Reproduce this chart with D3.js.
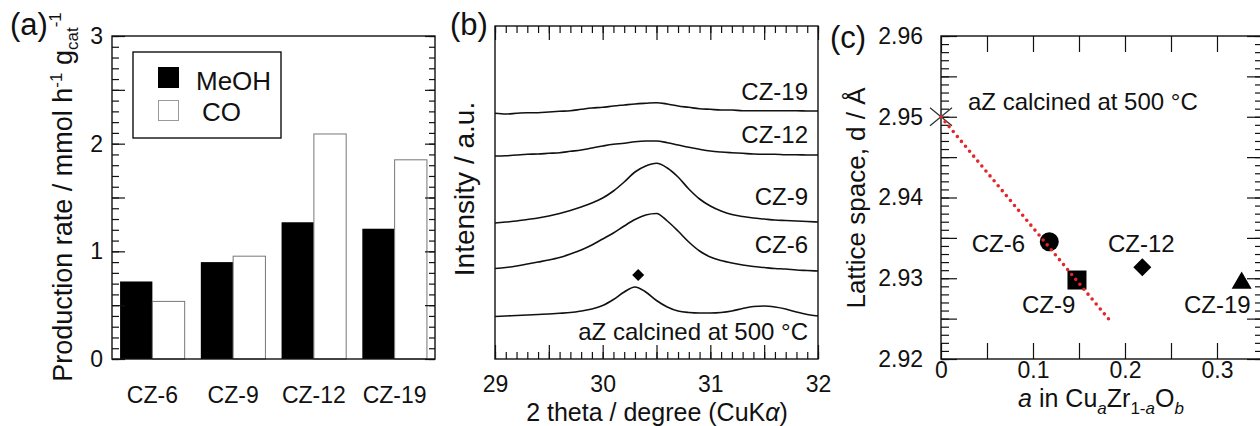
<!DOCTYPE html>
<meta charset="utf-8">
<script src="https://d3js.org/d3.v7.min.js"></script>
<style>
  html, body { margin: 0; padding: 0; background: #fff; }
  svg text { font-family: "Liberation Sans", Arial, sans-serif; fill: #111; }
</style>
<body>
<div id="chart"></div>
<script>
// ---- data ----
// (a) production rate, mmol h-1 gcat-1
var categories = ["CZ-6", "CZ-9", "CZ-12", "CZ-19"];
var meohRate = [0.72, 0.90, 1.27, 1.21];
var coRate = [0.535, 0.955, 2.09, 1.85];
var rateTicks = [0, 1, 2, 3];

// (b) XRD patterns, intensity in a.u. (already offset)
var twoTheta = [29.0, 29.1, 29.2, 29.3, 29.4, 29.5, 29.6, 29.7, 29.8, 29.9,
                30.0, 30.1, 30.2, 30.3, 30.4, 30.5, 30.6, 30.7, 30.8, 30.9,
                31.0, 31.1, 31.2, 31.3, 31.4, 31.5, 31.6, 31.7, 31.8, 31.9, 32.0];
var cz19 = [245.7, 245, 245.7, 246.3, 246.3, 247, 247.7, 248.3, 249.7, 251,
            251.7, 253, 254, 255, 255.7, 256.3, 255, 253, 251.7, 250.3,
            249.7, 249, 249, 248.3, 248.3, 248.3, 248.3, 248.3, 248.3, 248, 248];
var cz12 = [203, 203.3, 204, 204.7, 205, 205.7, 206.3, 207.7, 209, 211,
            213, 214.7, 215.7, 217.3, 218, 218, 216.3, 214, 211.7, 209.7,
            208, 207, 206.3, 205.7, 205, 204.7, 204.7, 204.3, 204.3, 204, 204];
var cz9 = [136, 137, 138, 139.5, 141, 143, 145.5, 148.5, 152, 156,
           161, 168, 177, 187, 193, 195.7, 191, 182, 170, 160,
           153, 148, 144.5, 142.5, 141, 140, 139, 138.5, 138, 137.5, 137];
var cz6 = [90.5, 91.5, 93, 95, 97, 99, 101.5, 105, 109, 114,
           120, 126, 133, 139.5, 144, 145.5, 138, 128, 117, 108,
           102, 98.5, 96, 94, 92.5, 91.5, 90.5, 90, 89, 88.5, 88];
var aZ = [42.5, 43, 43.5, 44, 44.5, 45, 45.7, 46.5, 48, 50,
          53.5, 59.5, 67, 72, 67, 58.5, 52, 48, 46.5, 46,
          46, 46.5, 48, 50.5, 52.5, 53, 52, 50, 47, 44.5, 43];
var aZPeak = {t: 30.33, i: 84};
var thetaTicks = [29, 30, 31, 32];

// (c) lattice spacing vs Cu fraction
var samples = ["CZ-6", "CZ-9", "CZ-12", "CZ-19"];
var cuFraction = [0.1177, 0.1478, 0.2188, 0.3268];
var spacing = [2.93453, 2.92978, 2.93136, 2.92941];
var aZPoint = {a: 0, d: 2.95};
var fitLine = [{a: 0, d: 2.95}, {a: 0.1855, d: 2.9245}];
var dTicks = [2.92, 2.93, 2.94, 2.95, 2.96];
var aTicks = [0, 0.1, 0.2, 0.3];

var svg = d3.select("#chart").append("svg")
  .attr("width", 1260).attr("height", 426);

function frame(x0, y0, x1, y1) {
  svg.append("rect")
    .attr("x", x0).attr("y", y0)
    .attr("width", x1 - x0).attr("height", y1 - y0)
    .attr("fill", "none").attr("stroke", "#111").attr("stroke-width", 1.4);
}
function styleAxis(g) {
  g.select(".domain").remove();
  g.selectAll("line").attr("stroke", "#111").attr("stroke-width", 1.2);
  g.selectAll("text").style("font-size", "23px").attr("fill", "#111");
  g.selectAll("text").filter(function() { return this.textContent === ""; }).remove();
}
function steps(a, b, s) {
  var out = [];
  for (var k = 0; a + k * s <= b + 1e-9; k++) out.push(+(a + k * s).toFixed(4));
  return out;
}

// ================= (a) =================
var xA = d3.scaleBand().domain(categories).range([112, 435])
  .paddingInner(0.2).paddingOuter(0.1);
var xSub = d3.scaleBand().domain(["MeOH", "CO"]).range([0, xA.bandwidth()]);
var yA = d3.scaleLinear().domain([0, 3]).range([359, 36]);

var barsA = svg.append("g");
barsA.selectAll(".meoh").data(categories).enter().append("rect")
  .attr("x", function(d) { return xA(d) + xSub("MeOH"); })
  .attr("width", xSub.bandwidth())
  .attr("y", function(d, i) { return yA(meohRate[i]); })
  .attr("height", function(d, i) { return yA(0) - yA(meohRate[i]); })
  .attr("fill", "#000");
barsA.selectAll(".co").data(categories).enter().append("rect")
  .attr("x", function(d) { return xA(d) + xSub("CO"); })
  .attr("width", xSub.bandwidth())
  .attr("y", function(d, i) { return yA(coRate[i]); })
  .attr("height", function(d, i) { return yA(0) - yA(coRate[i]); })
  .attr("fill", "#fff").attr("stroke", "#777").attr("stroke-width", 1);

svg.append("g").attr("transform", "translate(112,0)")
  .call(d3.axisLeft(yA).tickValues(steps(0, 3, 0.1)).tickSize(-7).tickFormat(""))
  .call(styleAxis);
svg.append("g").attr("transform", "translate(112,0)")
  .call(d3.axisLeft(yA).tickValues(steps(0, 3, 0.5)).tickSize(-13).tickPadding(9)
    .tickFormat(function(d) { return rateTicks.indexOf(d) >= 0 ? d : ""; }))
  .call(styleAxis);
svg.append("g").attr("transform", "translate(435,0)")
  .call(d3.axisRight(yA).tickValues(steps(0, 3, 0.1)).tickSize(-6).tickFormat(""))
  .call(styleAxis);
svg.append("g").attr("transform", "translate(435,0)")
  .call(d3.axisRight(yA).tickValues(steps(0, 3, 0.5)).tickSize(-10).tickFormat(""))
  .call(styleAxis);
svg.append("g").attr("transform", "translate(0,359)")
  .call(d3.axisBottom(xA).tickSize(0).tickPadding(28))
  .call(styleAxis);
frame(112, 36, 435, 359);

// legend
svg.append("rect").attr("x", 133).attr("y", 52).attr("width", 148).attr("height", 86)
  .attr("fill", "#fff").attr("stroke", "#111").attr("stroke-width", 1.4);
svg.append("rect").attr("x", 158).attr("y", 67).attr("width", 21).attr("height", 21).attr("fill", "#000");
svg.append("rect").attr("x", 158.5).attr("y", 100.5).attr("width", 20).attr("height", 20)
  .attr("fill", "#fff").attr("stroke", "#999");
svg.append("text").attr("x", 196).attr("y", 90).style("font-size", "26px").text("MeOH");
svg.append("text").attr("x", 202).attr("y", 121).style("font-size", "26px").text("CO");

svg.append("text").attr("x", 10).attr("y", 35).style("font-size", "31px").text("(a)");
var tA = svg.append("text").attr("transform", "translate(72,197) rotate(-90)")
  .attr("text-anchor", "middle").style("font-size", "27px");
tA.append("tspan").text("Production rate / mmol h");
tA.append("tspan").attr("dy", -10).style("font-size", "17px").text("-1");
tA.append("tspan").attr("dy", 10).text(" g");
tA.append("tspan").attr("dy", 6).style("font-size", "17px").text("cat");
tA.append("tspan").attr("dy", -17).style("font-size", "17px").text("-1");

// ================= (b) =================
var xB = d3.scaleLinear().domain([29, 32]).range([495, 818]);
var yB = d3.scaleLinear().domain([0, 333]).range([359, 26]);
var line = d3.line()
  .x(function(d, i) { return xB(twoTheta[i]); })
  .y(function(d) { return yB(d); })
  .curve(d3.curveMonotoneX);
[cz19, cz12, cz9, cz6, aZ].forEach(function(s) {
  svg.append("path").datum(s).attr("d", line)
    .attr("fill", "none").attr("stroke", "#111").attr("stroke-width", 1.6);
});
svg.append("path")
  .attr("transform", "translate(" + xB(aZPeak.t) + "," + yB(aZPeak.i) + ") rotate(45)")
  .attr("d", d3.symbol(d3.symbolSquare, 72)()).attr("fill", "#000");

var labB = [["CZ-19", 100], ["CZ-12", 143], ["CZ-9", 205], ["CZ-6", 253], ["aZ calcined at 500 °C", 340]];
labB.forEach(function(l) {
  svg.append("text").attr("x", 808).attr("y", l[1]).attr("text-anchor", "end")
    .style("font-size", "24px").text(l[0]);
});

svg.append("g").attr("transform", "translate(0,26)")
  .call(d3.axisTop(xB).tickValues(steps(29, 32, 0.1)).tickSize(-7).tickFormat(""))
  .call(styleAxis);
svg.append("g").attr("transform", "translate(0,26)")
  .call(d3.axisTop(xB).tickValues(steps(29, 32, 0.5)).tickSize(-14).tickFormat(""))
  .call(styleAxis);
svg.append("g").attr("transform", "translate(0,359)")
  .call(d3.axisBottom(xB).tickValues(steps(29, 32, 0.1)).tickSize(-7).tickFormat(""))
  .call(styleAxis);
svg.append("g").attr("transform", "translate(0,359)")
  .call(d3.axisBottom(xB).tickValues(steps(29, 32, 0.5)).tickSize(-14).tickPadding(17)
    .tickFormat(function(d) { return thetaTicks.indexOf(d) >= 0 ? d : ""; }))
  .call(styleAxis);
frame(495, 26, 818, 359);

svg.append("text").attr("x", 450).attr("y", 35).style("font-size", "31px").text("(b)");
svg.append("text").attr("transform", "translate(474,189) rotate(-90)")
  .attr("text-anchor", "middle").style("font-size", "28px").text("Intensity / a.u.");
var tB = svg.append("text").attr("x", 657).attr("y", 421)
  .attr("text-anchor", "middle").style("font-size", "25px");
tB.append("tspan").text("2 theta / degree (CuK");
tB.append("tspan").style("font-style", "italic").text("α");
tB.append("tspan").text(")");

// ================= (c) =================
var xC = d3.scaleLinear().domain([0, 0.35]).range([941, 1263]);
var yC = d3.scaleLinear().domain([2.92, 2.96]).range([359, 36]);

svg.append("g").attr("transform", "translate(941,0)")
  .call(d3.axisLeft(yC).tickValues(steps(2.92, 2.96, 0.001)).tickSize(-8).tickFormat(""))
  .call(styleAxis);
svg.append("g").attr("transform", "translate(941,0)")
  .call(d3.axisLeft(yC).tickValues(steps(2.92, 2.96, 0.005)).tickSize(-16).tickPadding(18)
    .tickFormat(function(d) { return dTicks.indexOf(d) >= 0 ? d.toFixed(2) : ""; }))
  .call(styleAxis);
svg.append("g").attr("transform", "translate(1263,0)")
  .call(d3.axisRight(yC).tickValues(steps(2.92, 2.96, 0.001)).tickSize(-8).tickFormat(""))
  .call(styleAxis);
svg.append("g").attr("transform", "translate(1263,0)")
  .call(d3.axisRight(yC).tickValues(steps(2.92, 2.96, 0.005)).tickSize(-16).tickFormat(""))
  .call(styleAxis);
svg.append("g").attr("transform", "translate(0,359)")
  .call(d3.axisBottom(xC).tickValues(steps(0, 0.35, 0.05)).tickSize(-16).tickPadding(3)
    .tickFormat(function(d) { return aTicks.indexOf(d) >= 0 ? (d === 0 ? "0" : d.toFixed(1)) : ""; }))
  .call(styleAxis);
svg.append("g").attr("transform", "translate(0,36)")
  .call(d3.axisTop(xC).tickValues(steps(0, 0.35, 0.05)).tickSize(-16).tickFormat(""))
  .call(styleAxis);
frame(941, 36, 1263, 359);

// aZ cross
var cx = xC(aZPoint.a), cy = yC(aZPoint.d);
svg.append("path")
  .attr("d", "M" + (cx - 11) + "," + (cy - 9) + "L" + (cx + 11) + "," + (cy + 9) +
             "M" + (cx - 11) + "," + (cy + 9) + "L" + (cx + 11) + "," + (cy - 9))
  .attr("stroke", "#333").attr("stroke-width", 1.3).attr("fill", "none");

var shapes = [d3.symbolCircle, d3.symbolSquare, d3.symbolSquare, d3.symbolTriangle];
var sizes = [283, 361, 162, 173];
var rot = [0, 0, 45, 0];
samples.forEach(function(s, i) {
  svg.append("path")
    .attr("transform", "translate(" + xC(cuFraction[i]) + "," + yC(spacing[i]) + ") rotate(" + rot[i] + ")")
    .attr("d", d3.symbol(shapes[i], sizes[i])())
    .attr("fill", "#000");
});
// dotted fit line, drawn over the circle and square
svg.append("path").datum(fitLine)
  .attr("d", d3.line().x(function(d) { return xC(d.a); }).y(function(d) { return yC(d.d); }))
  .attr("stroke", "#e3262a").attr("stroke-width", 3.6)
  .attr("stroke-linecap", "round").attr("stroke-dasharray", "0,6.4").attr("fill", "none");

var labC = [["CZ-6", 1025, 252, "end"], ["CZ-9", 1022, 313, "start"],
            ["CZ-12", 1108, 252, "start"], ["CZ-19", 1184, 313, "start"]];
labC.forEach(function(l) {
  svg.append("text").attr("x", l[1]).attr("y", l[2]).attr("text-anchor", l[3])
    .style("font-size", "24px").text(l[0]);
});
svg.append("text").attr("x", 968).attr("y", 110).style("font-size", "24px").text("aZ calcined at 500 °C");

svg.append("text").attr("x", 830).attr("y", 48).style("font-size", "31px").text("(c)");
svg.append("text").attr("transform", "translate(865,198) rotate(-90)")
  .attr("text-anchor", "middle").style("font-size", "26px").text("Lattice space, d / Å");
var tC = svg.append("text").attr("x", 1101).attr("y", 407)
  .attr("text-anchor", "middle").style("font-size", "25px");
tC.append("tspan").style("font-style", "italic").text("a");
tC.append("tspan").text(" in Cu");
tC.append("tspan").attr("dy", 7).style("font-size", "17px").style("font-style", "italic").text("a");
tC.append("tspan").attr("dy", -7).text("Zr");
tC.append("tspan").attr("dy", 7).style("font-size", "17px").text("1-");
tC.append("tspan").style("font-size", "17px").style("font-style", "italic").text("a");
tC.append("tspan").attr("dy", -7).text("O");
tC.append("tspan").attr("dy", 7).style("font-size", "17px").style("font-style", "italic").text("b");
</script>
</body>
